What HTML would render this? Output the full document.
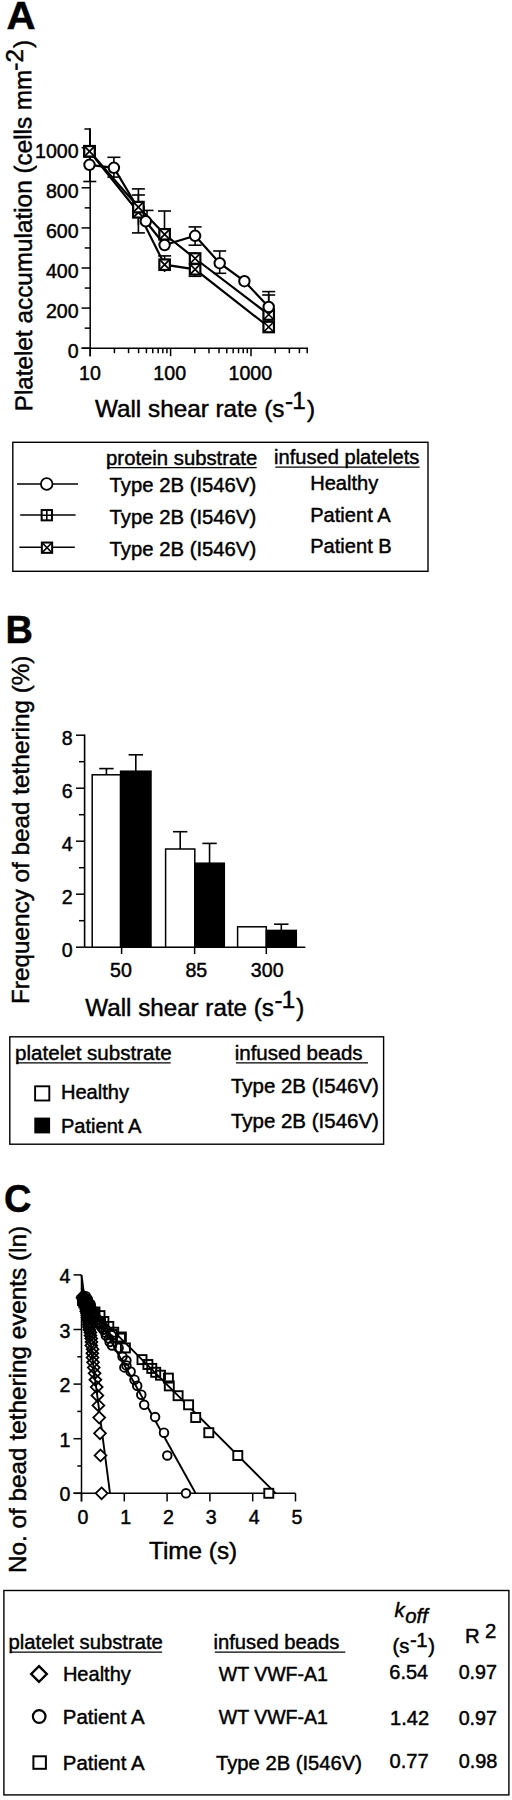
<!DOCTYPE html>
<html><head><meta charset="utf-8"><title>Figure</title>
<style>
html,body{margin:0;padding:0;background:#fff;}
svg{display:block;font-family:"Liberation Sans", sans-serif;fill:#000;}
text{stroke:#000;stroke-width:0.45px;}
</style></head><body>
<svg width="512" height="1800" viewBox="0 0 512 1800">
<rect x="0" y="0" width="512" height="1800" fill="#fff" stroke="none"/>
<text transform="translate(6.6,28.8) scale(1.06,1)" font-size="38" font-weight="bold">A</text>
<text transform="translate(32.3,411.3) rotate(-90.2)" font-size="24.3">Platelet accumulation (cells mm<tspan dy="-8.2" dx="-1">-2</tspan><tspan dy="8.2" dx="1">)</tspan></text>
<line x1="90.20" y1="128.60" x2="90.20" y2="356.20" stroke="#000" stroke-width="1.5" />
<line x1="81.60" y1="348.20" x2="308.00" y2="348.20" stroke="#000" stroke-width="1.5" />
<line x1="84.40" y1="129.00" x2="90.20" y2="129.00" stroke="#000" stroke-width="1.5" />
<line x1="81.60" y1="348.20" x2="90.20" y2="348.20" stroke="#000" stroke-width="1.5" />
<text x="78.60" y="358.10" font-size="19.6" text-anchor="end" font-weight="normal" >0</text>
<line x1="84.70" y1="328.15" x2="90.20" y2="328.15" stroke="#000" stroke-width="1.5" />
<line x1="81.60" y1="308.10" x2="90.20" y2="308.10" stroke="#000" stroke-width="1.5" />
<text x="78.60" y="318.00" font-size="19.6" text-anchor="end" font-weight="normal" >200</text>
<line x1="84.70" y1="288.05" x2="90.20" y2="288.05" stroke="#000" stroke-width="1.5" />
<line x1="81.60" y1="268.00" x2="90.20" y2="268.00" stroke="#000" stroke-width="1.5" />
<text x="78.60" y="277.90" font-size="19.6" text-anchor="end" font-weight="normal" >400</text>
<line x1="84.70" y1="247.95" x2="90.20" y2="247.95" stroke="#000" stroke-width="1.5" />
<line x1="81.60" y1="227.90" x2="90.20" y2="227.90" stroke="#000" stroke-width="1.5" />
<text x="78.60" y="237.80" font-size="19.6" text-anchor="end" font-weight="normal" >600</text>
<line x1="84.70" y1="207.85" x2="90.20" y2="207.85" stroke="#000" stroke-width="1.5" />
<line x1="81.60" y1="187.80" x2="90.20" y2="187.80" stroke="#000" stroke-width="1.5" />
<text x="78.60" y="197.70" font-size="19.6" text-anchor="end" font-weight="normal" >800</text>
<line x1="84.70" y1="167.75" x2="90.20" y2="167.75" stroke="#000" stroke-width="1.5" />
<line x1="81.60" y1="147.70" x2="90.20" y2="147.70" stroke="#000" stroke-width="1.5" />
<text x="78.60" y="157.60" font-size="19.6" text-anchor="end" font-weight="normal" >1000</text>
<line x1="90.20" y1="348.20" x2="90.20" y2="356.20" stroke="#000" stroke-width="1.5" />
<text x="89.90" y="379.60" font-size="19.6" text-anchor="middle" font-weight="normal" >10</text>
<line x1="114.40" y1="348.20" x2="114.40" y2="353.20" stroke="#000" stroke-width="1.5" />
<line x1="128.56" y1="348.20" x2="128.56" y2="353.20" stroke="#000" stroke-width="1.5" />
<line x1="138.61" y1="348.20" x2="138.61" y2="353.20" stroke="#000" stroke-width="1.5" />
<line x1="146.40" y1="348.20" x2="146.40" y2="353.20" stroke="#000" stroke-width="1.5" />
<line x1="152.76" y1="348.20" x2="152.76" y2="353.20" stroke="#000" stroke-width="1.5" />
<line x1="158.15" y1="348.20" x2="158.15" y2="353.20" stroke="#000" stroke-width="1.5" />
<line x1="162.81" y1="348.20" x2="162.81" y2="353.20" stroke="#000" stroke-width="1.5" />
<line x1="166.92" y1="348.20" x2="166.92" y2="353.20" stroke="#000" stroke-width="1.5" />
<line x1="170.60" y1="348.20" x2="170.60" y2="356.20" stroke="#000" stroke-width="1.5" />
<text x="169.70" y="379.60" font-size="19.6" text-anchor="middle" font-weight="normal" >100</text>
<line x1="194.80" y1="348.20" x2="194.80" y2="353.20" stroke="#000" stroke-width="1.5" />
<line x1="208.96" y1="348.20" x2="208.96" y2="353.20" stroke="#000" stroke-width="1.5" />
<line x1="219.01" y1="348.20" x2="219.01" y2="353.20" stroke="#000" stroke-width="1.5" />
<line x1="226.80" y1="348.20" x2="226.80" y2="353.20" stroke="#000" stroke-width="1.5" />
<line x1="233.16" y1="348.20" x2="233.16" y2="353.20" stroke="#000" stroke-width="1.5" />
<line x1="238.55" y1="348.20" x2="238.55" y2="353.20" stroke="#000" stroke-width="1.5" />
<line x1="243.21" y1="348.20" x2="243.21" y2="353.20" stroke="#000" stroke-width="1.5" />
<line x1="247.32" y1="348.20" x2="247.32" y2="353.20" stroke="#000" stroke-width="1.5" />
<line x1="251.00" y1="348.20" x2="251.00" y2="356.20" stroke="#000" stroke-width="1.5" />
<text x="250.30" y="379.60" font-size="19.6" text-anchor="middle" font-weight="normal" >1000</text>
<line x1="275.20" y1="348.20" x2="275.20" y2="353.20" stroke="#000" stroke-width="1.5" />
<line x1="289.36" y1="348.20" x2="289.36" y2="353.20" stroke="#000" stroke-width="1.5" />
<line x1="299.41" y1="348.20" x2="299.41" y2="353.20" stroke="#000" stroke-width="1.5" />
<line x1="307.20" y1="348.20" x2="307.20" y2="353.20" stroke="#000" stroke-width="1.5" />
<text x="94.9" y="417" font-size="24.3">Wall shear rate (s<tspan dy="-8.2" dx="0.5">-</tspan><tspan dx="-0.8">1</tspan><tspan dy="8.2" dx="1.2">)</tspan></text>
<line x1="89.80" y1="128.30" x2="89.80" y2="181.50" stroke="#000" stroke-width="1.6" />
<line x1="83.30" y1="181.50" x2="96.30" y2="181.50" stroke="#000" stroke-width="1.6" />
<line x1="113.90" y1="157.30" x2="113.90" y2="177.10" stroke="#000" stroke-width="1.6" />
<line x1="107.40" y1="157.30" x2="120.40" y2="157.30" stroke="#000" stroke-width="1.6" />
<line x1="107.40" y1="177.10" x2="120.40" y2="177.10" stroke="#000" stroke-width="1.6" />
<line x1="138.40" y1="188.90" x2="138.40" y2="232.90" stroke="#000" stroke-width="1.6" />
<line x1="131.90" y1="188.90" x2="144.90" y2="188.90" stroke="#000" stroke-width="1.6" />
<line x1="131.90" y1="232.90" x2="144.90" y2="232.90" stroke="#000" stroke-width="1.6" />
<line x1="138.40" y1="195.00" x2="138.40" y2="225.00" stroke="#000" stroke-width="1.6" />
<line x1="131.90" y1="195.00" x2="144.90" y2="195.00" stroke="#000" stroke-width="1.6" />
<line x1="147.00" y1="210.40" x2="147.00" y2="225.00" stroke="#000" stroke-width="1.6" />
<line x1="140.50" y1="210.40" x2="153.50" y2="210.40" stroke="#000" stroke-width="1.6" />
<line x1="164.50" y1="211.00" x2="164.50" y2="240.00" stroke="#000" stroke-width="1.6" />
<line x1="158.00" y1="211.00" x2="171.00" y2="211.00" stroke="#000" stroke-width="1.6" />
<line x1="164.60" y1="255.90" x2="164.60" y2="272.00" stroke="#000" stroke-width="1.6" />
<line x1="158.10" y1="255.90" x2="171.10" y2="255.90" stroke="#000" stroke-width="1.6" />
<line x1="195.10" y1="226.90" x2="195.10" y2="245.20" stroke="#000" stroke-width="1.6" />
<line x1="188.60" y1="226.90" x2="201.60" y2="226.90" stroke="#000" stroke-width="1.6" />
<line x1="188.60" y1="245.20" x2="201.60" y2="245.20" stroke="#000" stroke-width="1.6" />
<line x1="195.10" y1="252.00" x2="195.10" y2="276.30" stroke="#000" stroke-width="1.6" />
<line x1="188.60" y1="276.30" x2="201.60" y2="276.30" stroke="#000" stroke-width="1.6" />
<line x1="219.70" y1="251.00" x2="219.70" y2="273.30" stroke="#000" stroke-width="1.6" />
<line x1="213.20" y1="251.00" x2="226.20" y2="251.00" stroke="#000" stroke-width="1.6" />
<line x1="213.20" y1="273.30" x2="226.20" y2="273.30" stroke="#000" stroke-width="1.6" />
<line x1="268.70" y1="291.60" x2="268.70" y2="312.00" stroke="#000" stroke-width="1.6" />
<line x1="262.20" y1="291.60" x2="275.20" y2="291.60" stroke="#000" stroke-width="1.6" />
<line x1="268.70" y1="295.00" x2="268.70" y2="330.00" stroke="#000" stroke-width="1.6" />
<line x1="262.20" y1="295.00" x2="275.20" y2="295.00" stroke="#000" stroke-width="1.6" />
<polyline points="89.50,151.30 138.40,212.30 164.60,264.70 195.10,269.30 268.70,327.00" fill="none" stroke="#000" stroke-width="2.2"/>
<polyline points="89.50,151.30 138.40,207.10 164.60,234.30 195.10,258.50 268.70,314.50" fill="none" stroke="#000" stroke-width="2.2"/>
<polyline points="89.50,164.80 113.90,167.80 145.80,221.30 164.60,245.00 195.10,235.80 219.70,263.20 244.40,281.20 268.70,307.00" fill="none" stroke="#000" stroke-width="2.2"/>
<rect x="84.25" y="146.05" width="10.5" height="10.5" fill="#fff" stroke="#000" stroke-width="2.2"/>
<path d="M84.25 146.05L94.75 156.55M94.75 146.05L84.25 156.55" stroke="#000" stroke-width="1.76" fill="none"/>
<rect x="133.15" y="207.05" width="10.5" height="10.5" fill="#fff" stroke="#000" stroke-width="2.2"/>
<path d="M133.15 207.05L143.65 217.55M143.65 207.05L133.15 217.55" stroke="#000" stroke-width="1.76" fill="none"/>
<rect x="159.35" y="259.45" width="10.5" height="10.5" fill="#fff" stroke="#000" stroke-width="2.2"/>
<path d="M159.35 259.45L169.85 269.95M169.85 259.45L159.35 269.95" stroke="#000" stroke-width="1.76" fill="none"/>
<rect x="189.85" y="264.05" width="10.5" height="10.5" fill="#fff" stroke="#000" stroke-width="2.2"/>
<path d="M189.85 264.05L200.35 274.55M200.35 264.05L189.85 274.55" stroke="#000" stroke-width="1.76" fill="none"/>
<rect x="263.45" y="321.75" width="10.5" height="10.5" fill="#fff" stroke="#000" stroke-width="2.2"/>
<path d="M263.45 321.75L273.95 332.25M273.95 321.75L263.45 332.25" stroke="#000" stroke-width="1.76" fill="none"/>
<rect x="84.25" y="146.05" width="10.5" height="10.5" fill="#fff" stroke="#000" stroke-width="2.2"/>
<path d="M84.25 146.05L94.75 156.55M94.75 146.05L84.25 156.55" stroke="#000" stroke-width="1.76" fill="none"/>
<rect x="133.15" y="201.85" width="10.5" height="10.5" fill="#fff" stroke="#000" stroke-width="2.2"/>
<path d="M133.15 201.85L143.65 212.35M143.65 201.85L133.15 212.35" stroke="#000" stroke-width="1.76" fill="none"/>
<rect x="159.35" y="229.05" width="10.5" height="10.5" fill="#fff" stroke="#000" stroke-width="2.2"/>
<path d="M159.35 229.05L169.85 239.55M169.85 229.05L159.35 239.55" stroke="#000" stroke-width="1.76" fill="none"/>
<rect x="189.85" y="253.25" width="10.5" height="10.5" fill="#fff" stroke="#000" stroke-width="2.2"/>
<path d="M189.85 253.25L200.35 263.75M200.35 253.25L189.85 263.75" stroke="#000" stroke-width="1.76" fill="none"/>
<rect x="263.45" y="309.25" width="10.5" height="10.5" fill="#fff" stroke="#000" stroke-width="2.2"/>
<path d="M263.45 309.25L273.95 319.75M273.95 309.25L263.45 319.75" stroke="#000" stroke-width="1.76" fill="none"/>
<circle cx="89.50" cy="164.80" r="5.2" fill="#fff" stroke="#000" stroke-width="2.0"/>
<circle cx="113.90" cy="167.80" r="5.2" fill="#fff" stroke="#000" stroke-width="2.0"/>
<circle cx="145.80" cy="221.30" r="5.2" fill="#fff" stroke="#000" stroke-width="2.0"/>
<circle cx="164.60" cy="245.00" r="5.2" fill="#fff" stroke="#000" stroke-width="2.0"/>
<circle cx="195.10" cy="235.80" r="5.2" fill="#fff" stroke="#000" stroke-width="2.0"/>
<circle cx="219.70" cy="263.20" r="5.2" fill="#fff" stroke="#000" stroke-width="2.0"/>
<circle cx="244.40" cy="281.20" r="5.2" fill="#fff" stroke="#000" stroke-width="2.0"/>
<circle cx="268.70" cy="307.00" r="5.2" fill="#fff" stroke="#000" stroke-width="2.0"/>
<rect x="12.80" y="442.30" width="415.20" height="129.00" fill="#fff" stroke="#000" stroke-width="1.4"/>
<text x="106.10" y="464.80" font-size="20.3" text-anchor="start" font-weight="normal" >protein substrate</text>
<line x1="107.30" y1="467.70" x2="256.70" y2="467.70" stroke="#000" stroke-width="1.3" />
<text x="274.10" y="464.20" font-size="20.1" text-anchor="start" font-weight="normal" >infused platelets</text>
<line x1="275.30" y1="467.10" x2="419.70" y2="467.10" stroke="#000" stroke-width="1.3" />
<text x="109.60" y="492.10" font-size="20.3" text-anchor="start" font-weight="normal" >Type 2B (I546V)</text>
<text x="310.20" y="489.80" font-size="20.1" text-anchor="start" font-weight="normal" >Healthy</text>
<text x="109.60" y="524.00" font-size="20.3" text-anchor="start" font-weight="normal" >Type 2B (I546V)</text>
<text x="310.20" y="522.40" font-size="20.1" text-anchor="start" font-weight="normal" >Patient A</text>
<text x="109.60" y="555.60" font-size="20.3" text-anchor="start" font-weight="normal" >Type 2B (I546V)</text>
<text x="310.20" y="552.90" font-size="20.1" text-anchor="start" font-weight="normal" >Patient B</text>
<line x1="17.00" y1="484.00" x2="78.00" y2="484.00" stroke="#000" stroke-width="1.5" />
<line x1="20.20" y1="515.00" x2="75.60" y2="515.00" stroke="#000" stroke-width="1.5" />
<line x1="19.40" y1="547.30" x2="74.80" y2="547.30" stroke="#000" stroke-width="1.5" />
<circle cx="46.70" cy="484.00" r="5.8" fill="#fff" stroke="#000" stroke-width="1.8"/>
<rect x="41.65" y="510.05" width="10.3" height="10.3" fill="#fff" stroke="#000" stroke-width="2.0"/>
<path d="M46.80 510.05L46.80 520.35M41.65 515.20L51.95 515.20" stroke="#000" stroke-width="1.60" fill="none"/>
<rect x="41.85" y="542.55" width="10.3" height="10.3" fill="#fff" stroke="#000" stroke-width="2.0"/>
<path d="M41.85 542.55L52.15 552.85M52.15 542.55L41.85 552.85" stroke="#000" stroke-width="1.60" fill="none"/>
<text x="5.50" y="643.00" font-size="38" text-anchor="start" font-weight="bold" >B</text>
<text transform="translate(28.8,1004) rotate(-90)" font-size="24.3">Frequency of bead tethering (%)</text>
<line x1="84.60" y1="734.50" x2="84.60" y2="947.20" stroke="#000" stroke-width="1.6" />
<line x1="84.60" y1="947.20" x2="305.30" y2="947.20" stroke="#000" stroke-width="1.6" />
<line x1="121.60" y1="947.20" x2="121.60" y2="954.00" stroke="#000" stroke-width="1.5" />
<line x1="194.60" y1="947.20" x2="194.60" y2="954.00" stroke="#000" stroke-width="1.5" />
<line x1="266.30" y1="947.20" x2="266.30" y2="954.00" stroke="#000" stroke-width="1.5" />
<line x1="76.00" y1="947.20" x2="84.60" y2="947.20" stroke="#000" stroke-width="1.5" />
<text x="72.70" y="956.80" font-size="19.6" text-anchor="end" font-weight="normal" >0</text>
<line x1="79.00" y1="920.70" x2="84.60" y2="920.70" stroke="#000" stroke-width="1.5" />
<line x1="76.00" y1="894.20" x2="84.60" y2="894.20" stroke="#000" stroke-width="1.5" />
<text x="72.70" y="903.80" font-size="19.6" text-anchor="end" font-weight="normal" >2</text>
<line x1="79.00" y1="867.70" x2="84.60" y2="867.70" stroke="#000" stroke-width="1.5" />
<line x1="76.00" y1="841.20" x2="84.60" y2="841.20" stroke="#000" stroke-width="1.5" />
<text x="72.70" y="850.80" font-size="19.6" text-anchor="end" font-weight="normal" >4</text>
<line x1="79.00" y1="814.70" x2="84.60" y2="814.70" stroke="#000" stroke-width="1.5" />
<line x1="76.00" y1="788.20" x2="84.60" y2="788.20" stroke="#000" stroke-width="1.5" />
<text x="72.70" y="797.80" font-size="19.6" text-anchor="end" font-weight="normal" >6</text>
<line x1="79.00" y1="761.70" x2="84.60" y2="761.70" stroke="#000" stroke-width="1.5" />
<line x1="76.00" y1="735.20" x2="84.60" y2="735.20" stroke="#000" stroke-width="1.5" />
<text x="72.70" y="744.80" font-size="19.6" text-anchor="end" font-weight="normal" >8</text>
<line x1="106.40" y1="768.60" x2="106.40" y2="774.80" stroke="#000" stroke-width="1.6" />
<line x1="99.20" y1="768.60" x2="113.60" y2="768.60" stroke="#000" stroke-width="1.6" />
<rect x="92.20" y="774.80" width="28.40" height="172.40" fill="#fff" stroke="#000" stroke-width="1.5"/>
<line x1="135.80" y1="754.80" x2="135.80" y2="771.20" stroke="#000" stroke-width="1.6" />
<line x1="128.60" y1="754.80" x2="143.00" y2="754.80" stroke="#000" stroke-width="1.6" />
<rect x="120.60" y="771.20" width="30.40" height="176.00" fill="#000" stroke="#000" stroke-width="1.5"/>
<line x1="180.20" y1="831.70" x2="180.20" y2="849.00" stroke="#000" stroke-width="1.6" />
<line x1="173.00" y1="831.70" x2="187.40" y2="831.70" stroke="#000" stroke-width="1.6" />
<rect x="165.60" y="849.00" width="29.20" height="98.20" fill="#fff" stroke="#000" stroke-width="1.5"/>
<line x1="209.55" y1="843.40" x2="209.55" y2="863.20" stroke="#000" stroke-width="1.6" />
<line x1="202.35" y1="843.40" x2="216.75" y2="843.40" stroke="#000" stroke-width="1.6" />
<rect x="194.80" y="863.20" width="29.50" height="84.00" fill="#000" stroke="#000" stroke-width="1.5"/>
<rect x="237.60" y="926.80" width="28.70" height="20.40" fill="#fff" stroke="#000" stroke-width="1.5"/>
<line x1="281.30" y1="924.20" x2="281.30" y2="930.40" stroke="#000" stroke-width="1.6" />
<line x1="274.10" y1="924.20" x2="288.50" y2="924.20" stroke="#000" stroke-width="1.6" />
<rect x="266.30" y="930.40" width="30.00" height="16.80" fill="#000" stroke="#000" stroke-width="1.5"/>
<text x="121.00" y="977.40" font-size="19.6" text-anchor="middle" font-weight="normal" >50</text>
<text x="196.30" y="977.40" font-size="19.6" text-anchor="middle" font-weight="normal" >85</text>
<text x="267.20" y="977.40" font-size="19.6" text-anchor="middle" font-weight="normal" >300</text>
<text x="85.3" y="1016" font-size="24.2">Wall shear rate (s<tspan dy="-8.2" dx="0.5">-</tspan><tspan dx="-0.8">1</tspan><tspan dy="8.2" dx="1.2">)</tspan></text>
<rect x="9.80" y="1036.80" width="373.80" height="107.40" fill="#fff" stroke="#000" stroke-width="1.4"/>
<text x="15.12" y="1059.80" font-size="20.55" text-anchor="start" font-weight="normal" >platelet substrate</text>
<line x1="16.40" y1="1062.80" x2="170.70" y2="1062.80" stroke="#000" stroke-width="1.3" />
<text x="234.66" y="1059.80" font-size="20.56" text-anchor="start" font-weight="normal" >infused beads</text>
<line x1="236.00" y1="1062.80" x2="368.00" y2="1062.80" stroke="#000" stroke-width="1.3" />
<rect x="35.10" y="1086.30" width="14.20" height="14.20" fill="#fff" stroke="#000" stroke-width="1.9"/>
<rect x="35.10" y="1118.40" width="14.20" height="14.20" fill="#000" stroke="#000" stroke-width="1.6"/>
<text x="60.89" y="1099.30" font-size="20.1" text-anchor="start" font-weight="normal" >Healthy</text>
<text x="60.89" y="1132.50" font-size="20.1" text-anchor="start" font-weight="normal" >Patient A</text>
<text x="230.89" y="1093.40" font-size="20.49" text-anchor="start" font-weight="normal" >Type 2B (I546V)</text>
<text x="230.89" y="1128.20" font-size="20.49" text-anchor="start" font-weight="normal" >Type 2B (I546V)</text>
<text x="4.00" y="1212.00" font-size="38" text-anchor="start" font-weight="bold" >C</text>
<text transform="translate(26.2,1573) rotate(-90)" font-size="24.3">No. of bead tethering events (ln)</text>
<line x1="81.50" y1="1274.90" x2="81.50" y2="1501.40" stroke="#000" stroke-width="1.5" />
<line x1="73.50" y1="1493.30" x2="295.50" y2="1493.30" stroke="#000" stroke-width="1.5" />
<line x1="73.50" y1="1493.30" x2="81.50" y2="1493.30" stroke="#000" stroke-width="1.5" />
<text x="70.30" y="1501.30" font-size="19.6" text-anchor="end" font-weight="normal" >0</text>
<line x1="77.30" y1="1466.00" x2="81.50" y2="1466.00" stroke="#000" stroke-width="1.5" />
<line x1="73.50" y1="1438.70" x2="81.50" y2="1438.70" stroke="#000" stroke-width="1.5" />
<text x="70.30" y="1446.70" font-size="19.6" text-anchor="end" font-weight="normal" >1</text>
<line x1="77.30" y1="1411.40" x2="81.50" y2="1411.40" stroke="#000" stroke-width="1.5" />
<line x1="73.50" y1="1384.10" x2="81.50" y2="1384.10" stroke="#000" stroke-width="1.5" />
<text x="70.30" y="1392.10" font-size="19.6" text-anchor="end" font-weight="normal" >2</text>
<line x1="77.30" y1="1356.80" x2="81.50" y2="1356.80" stroke="#000" stroke-width="1.5" />
<line x1="73.50" y1="1329.50" x2="81.50" y2="1329.50" stroke="#000" stroke-width="1.5" />
<text x="70.30" y="1337.50" font-size="19.6" text-anchor="end" font-weight="normal" >3</text>
<line x1="77.30" y1="1302.20" x2="81.50" y2="1302.20" stroke="#000" stroke-width="1.5" />
<line x1="73.50" y1="1274.90" x2="81.50" y2="1274.90" stroke="#000" stroke-width="1.5" />
<text x="70.30" y="1282.90" font-size="19.6" text-anchor="end" font-weight="normal" >4</text>
<line x1="81.50" y1="1493.30" x2="81.50" y2="1501.40" stroke="#000" stroke-width="1.5" />
<text x="82.90" y="1524.20" font-size="19.6" text-anchor="middle" font-weight="normal" >0</text>
<line x1="124.30" y1="1493.30" x2="124.30" y2="1501.40" stroke="#000" stroke-width="1.5" />
<text x="125.70" y="1524.20" font-size="19.6" text-anchor="middle" font-weight="normal" >1</text>
<line x1="167.10" y1="1493.30" x2="167.10" y2="1501.40" stroke="#000" stroke-width="1.5" />
<text x="168.50" y="1524.20" font-size="19.6" text-anchor="middle" font-weight="normal" >2</text>
<line x1="209.90" y1="1493.30" x2="209.90" y2="1501.40" stroke="#000" stroke-width="1.5" />
<text x="211.30" y="1524.20" font-size="19.6" text-anchor="middle" font-weight="normal" >3</text>
<line x1="252.70" y1="1493.30" x2="252.70" y2="1501.40" stroke="#000" stroke-width="1.5" />
<text x="254.10" y="1524.20" font-size="19.6" text-anchor="middle" font-weight="normal" >4</text>
<line x1="295.50" y1="1493.30" x2="295.50" y2="1501.40" stroke="#000" stroke-width="1.5" />
<text x="296.90" y="1524.20" font-size="19.6" text-anchor="middle" font-weight="normal" >5</text>
<text x="149.00" y="1558.80" font-size="24.3" text-anchor="start" font-weight="normal" >Time (s)</text>
<line x1="81.50" y1="1275.00" x2="110.00" y2="1493.30" stroke="#000" stroke-width="1.9" />
<line x1="81.50" y1="1288.00" x2="195.60" y2="1493.30" stroke="#000" stroke-width="1.9" />
<line x1="81.50" y1="1299.10" x2="275.70" y2="1493.30" stroke="#000" stroke-width="1.9" />
<rect x="264.30" y="1488.80" width="9.0" height="9.0" fill="#fff" stroke="#000" stroke-width="1.9"/>
<rect x="233.30" y="1451.00" width="9.0" height="9.0" fill="#fff" stroke="#000" stroke-width="1.9"/>
<rect x="204.30" y="1428.20" width="9.0" height="9.0" fill="#fff" stroke="#000" stroke-width="1.9"/>
<rect x="191.20" y="1413.00" width="9.0" height="9.0" fill="#fff" stroke="#000" stroke-width="1.9"/>
<rect x="184.10" y="1400.30" width="9.0" height="9.0" fill="#fff" stroke="#000" stroke-width="1.9"/>
<rect x="173.60" y="1391.20" width="9.0" height="9.0" fill="none" stroke="#000" stroke-width="1.9"/>
<rect x="164.80" y="1381.40" width="9.0" height="9.0" fill="none" stroke="#000" stroke-width="1.9"/>
<rect x="163.90" y="1373.60" width="9.0" height="9.0" fill="none" stroke="#000" stroke-width="1.9"/>
<rect x="156.00" y="1370.70" width="9.0" height="9.0" fill="none" stroke="#000" stroke-width="1.9"/>
<rect x="151.20" y="1367.80" width="9.0" height="9.0" fill="none" stroke="#000" stroke-width="1.9"/>
<rect x="147.30" y="1363.90" width="9.0" height="9.0" fill="none" stroke="#000" stroke-width="1.9"/>
<rect x="143.40" y="1360.00" width="9.0" height="9.0" fill="none" stroke="#000" stroke-width="1.9"/>
<rect x="137.50" y="1355.10" width="9.0" height="9.0" fill="none" stroke="#000" stroke-width="1.9"/>
<rect x="120.90" y="1343.40" width="9.0" height="9.0" fill="none" stroke="#000" stroke-width="1.9"/>
<rect x="116.00" y="1333.60" width="9.0" height="9.0" fill="none" stroke="#000" stroke-width="1.9"/>
<rect x="109.20" y="1327.70" width="9.0" height="9.0" fill="none" stroke="#000" stroke-width="1.9"/>
<rect x="116.90" y="1332.50" width="9.0" height="9.0" fill="none" stroke="#000" stroke-width="1.9"/>
<rect x="107.50" y="1330.00" width="9.0" height="9.0" fill="none" stroke="#000" stroke-width="1.9"/>
<rect x="104.30" y="1321.90" width="9.0" height="9.0" fill="none" stroke="#000" stroke-width="1.9"/>
<rect x="99.40" y="1317.00" width="9.0" height="9.0" fill="none" stroke="#000" stroke-width="1.9"/>
<rect x="95.50" y="1311.10" width="9.0" height="9.0" fill="none" stroke="#000" stroke-width="1.9"/>
<rect x="96.00" y="1318.50" width="9.0" height="9.0" fill="none" stroke="#000" stroke-width="1.9"/>
<rect x="88.10" y="1312.50" width="9.0" height="9.0" fill="none" stroke="#000" stroke-width="1.9"/>
<rect x="82.50" y="1309.40" width="9.0" height="9.0" fill="none" stroke="#000" stroke-width="1.9"/>
<rect x="90.50" y="1307.50" width="9.0" height="9.0" fill="none" stroke="#000" stroke-width="1.9"/>
<rect x="85.50" y="1304.50" width="9.0" height="9.0" fill="none" stroke="#000" stroke-width="1.9"/>
<rect x="82.00" y="1301.50" width="9.0" height="9.0" fill="none" stroke="#000" stroke-width="1.9"/>
<rect x="79.50" y="1298.50" width="9.0" height="9.0" fill="none" stroke="#000" stroke-width="1.9"/>
<rect x="78.00" y="1296.00" width="9.0" height="9.0" fill="none" stroke="#000" stroke-width="1.9"/>
<circle cx="186.00" cy="1493.30" r="4.3" fill="#fff" stroke="#000" stroke-width="1.9"/>
<circle cx="167.30" cy="1455.50" r="4.3" fill="#fff" stroke="#000" stroke-width="1.9"/>
<circle cx="164.00" cy="1432.70" r="4.3" fill="#fff" stroke="#000" stroke-width="1.9"/>
<circle cx="155.10" cy="1417.00" r="4.3" fill="#fff" stroke="#000" stroke-width="1.9"/>
<circle cx="144.20" cy="1404.80" r="4.3" fill="#fff" stroke="#000" stroke-width="1.9"/>
<circle cx="141.30" cy="1394.70" r="4.3" fill="none" stroke="#000" stroke-width="1.9"/>
<circle cx="137.20" cy="1385.80" r="4.3" fill="none" stroke="#000" stroke-width="1.9"/>
<circle cx="134.50" cy="1379.70" r="4.3" fill="none" stroke="#000" stroke-width="1.9"/>
<circle cx="130.60" cy="1371.50" r="4.3" fill="none" stroke="#000" stroke-width="1.9"/>
<circle cx="126.40" cy="1365.40" r="4.3" fill="none" stroke="#000" stroke-width="1.9"/>
<circle cx="124.40" cy="1367.40" r="4.3" fill="none" stroke="#000" stroke-width="1.9"/>
<circle cx="126.40" cy="1360.50" r="4.3" fill="none" stroke="#000" stroke-width="1.9"/>
<circle cx="122.50" cy="1356.60" r="4.3" fill="none" stroke="#000" stroke-width="1.9"/>
<circle cx="118.60" cy="1347.90" r="4.3" fill="none" stroke="#000" stroke-width="1.9"/>
<circle cx="112.00" cy="1345.44" r="4.3" fill="none" stroke="#000" stroke-width="1.9"/>
<circle cx="109.63" cy="1341.92" r="4.3" fill="none" stroke="#000" stroke-width="1.9"/>
<circle cx="108.99" cy="1338.61" r="4.3" fill="none" stroke="#000" stroke-width="1.9"/>
<circle cx="105.87" cy="1335.49" r="4.3" fill="none" stroke="#000" stroke-width="1.9"/>
<circle cx="105.34" cy="1332.53" r="4.3" fill="none" stroke="#000" stroke-width="1.9"/>
<circle cx="103.37" cy="1329.73" r="4.3" fill="none" stroke="#000" stroke-width="1.9"/>
<circle cx="101.15" cy="1327.07" r="4.3" fill="none" stroke="#000" stroke-width="1.9"/>
<circle cx="100.82" cy="1324.53" r="4.3" fill="none" stroke="#000" stroke-width="1.9"/>
<circle cx="98.34" cy="1322.10" r="4.3" fill="none" stroke="#000" stroke-width="1.9"/>
<circle cx="98.00" cy="1319.78" r="4.3" fill="none" stroke="#000" stroke-width="1.9"/>
<circle cx="95.89" cy="1317.55" r="4.3" fill="none" stroke="#000" stroke-width="1.9"/>
<circle cx="94.75" cy="1315.41" r="4.3" fill="none" stroke="#000" stroke-width="1.9"/>
<circle cx="94.41" cy="1313.35" r="4.3" fill="none" stroke="#000" stroke-width="1.9"/>
<circle cx="94.27" cy="1311.36" r="4.3" fill="none" stroke="#000" stroke-width="1.9"/>
<circle cx="91.52" cy="1309.45" r="4.3" fill="none" stroke="#000" stroke-width="1.9"/>
<circle cx="90.73" cy="1307.59" r="4.3" fill="none" stroke="#000" stroke-width="1.9"/>
<circle cx="90.70" cy="1305.80" r="4.3" fill="none" stroke="#000" stroke-width="1.9"/>
<circle cx="90.51" cy="1304.07" r="4.3" fill="none" stroke="#000" stroke-width="1.9"/>
<circle cx="88.68" cy="1302.39" r="4.3" fill="none" stroke="#000" stroke-width="1.9"/>
<circle cx="87.34" cy="1300.76" r="4.3" fill="none" stroke="#000" stroke-width="1.9"/>
<circle cx="87.86" cy="1299.18" r="4.3" fill="none" stroke="#000" stroke-width="1.9"/>
<circle cx="84.77" cy="1297.64" r="4.3" fill="none" stroke="#000" stroke-width="1.9"/>
<circle cx="85.89" cy="1296.14" r="4.3" fill="none" stroke="#000" stroke-width="1.9"/>
<path d="M101.60 1487.40L107.50 1493.30L101.60 1499.20L95.70 1493.30Z" fill="#fff" stroke="#000" stroke-width="1.8"/>
<path d="M100.50 1449.55L106.40 1455.45L100.50 1461.35L94.60 1455.45Z" fill="#fff" stroke="#000" stroke-width="1.8"/>
<path d="M100.00 1427.42L105.90 1433.32L100.00 1439.22L94.10 1433.32Z" fill="#fff" stroke="#000" stroke-width="1.8"/>
<path d="M99.20 1411.71L105.10 1417.61L99.20 1423.51L93.30 1417.61Z" fill="#fff" stroke="#000" stroke-width="1.8"/>
<path d="M98.40 1399.52L104.30 1405.42L98.40 1411.32L92.50 1405.42Z" fill="none" stroke="#000" stroke-width="1.8"/>
<path d="M97.40 1389.57L103.30 1395.47L97.40 1401.37L91.50 1395.47Z" fill="none" stroke="#000" stroke-width="1.8"/>
<path d="M96.70 1381.15L102.60 1387.05L96.70 1392.95L90.80 1387.05Z" fill="none" stroke="#000" stroke-width="1.8"/>
<path d="M95.40 1373.86L101.30 1379.76L95.40 1385.66L89.50 1379.76Z" fill="none" stroke="#000" stroke-width="1.8"/>
<path d="M94.60 1367.43L100.50 1373.33L94.60 1379.23L88.70 1373.33Z" fill="none" stroke="#000" stroke-width="1.8"/>
<path d="M93.76 1361.68L99.66 1367.58L93.76 1373.48L87.86 1367.58Z" fill="none" stroke="#000" stroke-width="1.8"/>
<path d="M93.05 1356.47L98.95 1362.37L93.05 1368.27L87.15 1362.37Z" fill="none" stroke="#000" stroke-width="1.8"/>
<path d="M92.55 1351.72L98.45 1357.62L92.55 1363.52L86.65 1357.62Z" fill="none" stroke="#000" stroke-width="1.8"/>
<path d="M92.34 1347.35L98.24 1353.25L92.34 1359.15L86.44 1353.25Z" fill="none" stroke="#000" stroke-width="1.8"/>
<path d="M92.61 1343.31L98.51 1349.21L92.61 1355.11L86.71 1349.21Z" fill="none" stroke="#000" stroke-width="1.8"/>
<path d="M91.30 1339.54L97.20 1345.44L91.30 1351.34L85.40 1345.44Z" fill="none" stroke="#000" stroke-width="1.8"/>
<path d="M91.48 1336.02L97.38 1341.92L91.48 1347.82L85.58 1341.92Z" fill="none" stroke="#000" stroke-width="1.8"/>
<path d="M91.20 1332.71L97.10 1338.61L91.20 1344.51L85.30 1338.61Z" fill="none" stroke="#000" stroke-width="1.8"/>
<path d="M90.48 1329.59L96.38 1335.49L90.48 1341.39L84.58 1335.49Z" fill="none" stroke="#000" stroke-width="1.8"/>
<path d="M90.40 1326.63L96.30 1332.53L90.40 1338.43L84.50 1332.53Z" fill="none" stroke="#000" stroke-width="1.8"/>
<path d="M89.41 1323.83L95.31 1329.73L89.41 1335.63L83.51 1329.73Z" fill="none" stroke="#000" stroke-width="1.8"/>
<path d="M88.94 1321.17L94.84 1327.07L88.94 1332.97L83.04 1327.07Z" fill="none" stroke="#000" stroke-width="1.8"/>
<path d="M88.68 1318.63L94.58 1324.53L88.68 1330.43L82.78 1324.53Z" fill="none" stroke="#000" stroke-width="1.8"/>
<path d="M88.90 1316.20L94.80 1322.10L88.90 1328.00L83.00 1322.10Z" fill="none" stroke="#000" stroke-width="1.8"/>
<path d="M88.12 1313.88L94.02 1319.78L88.12 1325.68L82.22 1319.78Z" fill="none" stroke="#000" stroke-width="1.8"/>
<path d="M87.55 1311.65L93.45 1317.55L87.55 1323.45L81.65 1317.55Z" fill="none" stroke="#000" stroke-width="1.8"/>
<path d="M87.54 1309.51L93.44 1315.41L87.54 1321.31L81.64 1315.41Z" fill="none" stroke="#000" stroke-width="1.8"/>
<path d="M86.98 1307.45L92.88 1313.35L86.98 1319.25L81.08 1313.35Z" fill="none" stroke="#000" stroke-width="1.8"/>
<path d="M86.24 1305.46L92.14 1311.36L86.24 1317.26L80.34 1311.36Z" fill="none" stroke="#000" stroke-width="1.8"/>
<path d="M86.40 1303.55L92.30 1309.45L86.40 1315.35L80.50 1309.45Z" fill="none" stroke="#000" stroke-width="1.8"/>
<path d="M85.76 1301.69L91.66 1307.59L85.76 1313.49L79.86 1307.59Z" fill="none" stroke="#000" stroke-width="1.8"/>
<path d="M84.63 1299.90L90.53 1305.80L84.63 1311.70L78.73 1305.80Z" fill="none" stroke="#000" stroke-width="1.8"/>
<path d="M84.62 1298.17L90.52 1304.07L84.62 1309.97L78.72 1304.07Z" fill="none" stroke="#000" stroke-width="1.8"/>
<path d="M84.09 1296.49L89.99 1302.39L84.09 1308.29L78.19 1302.39Z" fill="none" stroke="#000" stroke-width="1.8"/>
<path d="M84.15 1294.86L90.05 1300.76L84.15 1306.66L78.25 1300.76Z" fill="none" stroke="#000" stroke-width="1.8"/>
<path d="M83.53 1293.28L89.43 1299.18L83.53 1305.08L77.63 1299.18Z" fill="none" stroke="#000" stroke-width="1.8"/>
<path d="M82.51 1291.74L88.41 1297.64L82.51 1303.54L76.61 1297.64Z" fill="none" stroke="#000" stroke-width="1.8"/>
<path d="M83.09 1290.24L88.99 1296.14L83.09 1302.04L77.19 1296.14Z" fill="none" stroke="#000" stroke-width="1.8"/>
<rect x="3.90" y="1590.50" width="505.00" height="204.40" fill="#fff" stroke="#000" stroke-width="1.4"/>
<text x="8.53" y="1649.30" font-size="20.28" text-anchor="start" font-weight="normal" >platelet substrate</text>
<line x1="9.80" y1="1652.10" x2="162.10" y2="1652.10" stroke="#000" stroke-width="1.3" />
<text x="213.49" y="1649.30" font-size="20.22" text-anchor="start" font-weight="normal" >infused beads</text>
<line x1="214.80" y1="1652.10" x2="345.30" y2="1652.10" stroke="#000" stroke-width="1.3" />
<text x="394.6" y="1616.6" font-size="20.3" font-style="italic">k<tspan dy="6.4" dx="0.5">off</tspan></text>
<text x="392.6" y="1652.6" font-size="20.3">(s<tspan dy="-5.4" dx="0.6">-</tspan><tspan dx="-0.6">1</tspan><tspan dy="5.4" dx="0.6">)</tspan></text>
<text x="464.9" y="1642.8" font-size="20.3">R<tspan dy="-4.6" dx="5.5">2</tspan></text>
<path d="M39.00 1666.20L46.80 1674.00L39.00 1681.80L31.20 1674.00Z" fill="none" stroke="#000" stroke-width="2.4"/>
<circle cx="39.20" cy="1716.50" r="6.3" fill="none" stroke="#000" stroke-width="2.2"/>
<rect x="33.40" y="1756.30" width="12.50" height="12.50" fill="none" stroke="#000" stroke-width="2.0"/>
<text x="62.90" y="1680.50" font-size="20.06" text-anchor="start" font-weight="normal" >Healthy</text>
<text x="62.87" y="1723.50" font-size="20.41" text-anchor="start" font-weight="normal" >Patient A</text>
<text x="62.87" y="1769.60" font-size="20.41" text-anchor="start" font-weight="normal" >Patient A</text>
<text x="218.75" y="1681.30" font-size="19.52" text-anchor="start" font-weight="normal" >WT VWF-A1</text>
<text x="218.75" y="1723.50" font-size="19.52" text-anchor="start" font-weight="normal" >WT VWF-A1</text>
<text x="216.00" y="1770.40" font-size="20.22" text-anchor="start" font-weight="normal" >Type 2B (I546V)</text>
<text x="389.30" y="1678.90" font-size="20.03" text-anchor="start" font-weight="normal" >6.54</text>
<text x="390.09" y="1724.80" font-size="20.08" text-anchor="start" font-weight="normal" >1.42</text>
<text x="389.55" y="1768.10" font-size="20.11" text-anchor="start" font-weight="normal" >0.77</text>
<text x="458.66" y="1678.90" font-size="19.68" text-anchor="start" font-weight="normal" >0.97</text>
<text x="458.66" y="1724.80" font-size="19.68" text-anchor="start" font-weight="normal" >0.97</text>
<text x="458.65" y="1768.10" font-size="19.92" text-anchor="start" font-weight="normal" >0.98</text>
</svg>
</body></html>
